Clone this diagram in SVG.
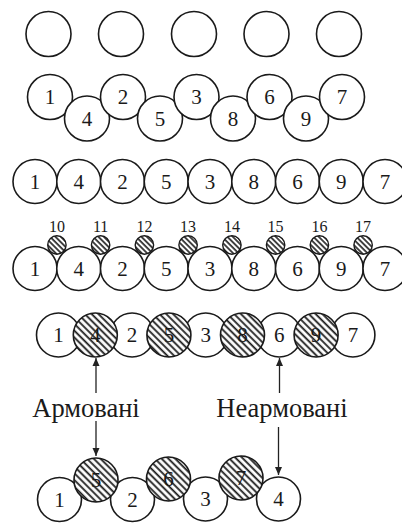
<svg xmlns="http://www.w3.org/2000/svg" width="402" height="523" viewBox="0 0 402 523" font-family="'Liberation Serif', 'DejaVu Serif', serif">
  <defs>
    <pattern id="hatch" width="4.8" height="4.8" patternUnits="userSpaceOnUse" patternTransform="rotate(-45)">
      <rect width="4.8" height="4.8" fill="#fff"/>
      <line x1="1.2" y1="0" x2="1.2" y2="4.8" stroke="#1a1a1a" stroke-width="1.8"/>
    </pattern>
    <pattern id="hatchS" width="3.8" height="3.8" patternUnits="userSpaceOnUse" patternTransform="rotate(-45)">
      <rect width="3.8" height="3.8" fill="#fff"/>
      <line x1="1" y1="0" x2="1" y2="3.8" stroke="#1a1a1a" stroke-width="1.6"/>
    </pattern>
    <marker id="arr" viewBox="0 0 8 10" refX="8" refY="5" markerWidth="8" markerHeight="10" markerUnits="userSpaceOnUse" orient="auto">
      <path d="M0,1.5 L8,5 L0,8.5 Z" fill="#222"/>
    </marker>
  </defs>
  <style>
    circle { stroke: #1a1a1a; stroke-width: 1.6; fill: #fff; }
    circle.h { fill: url(#hatch); }
    circle.hs { fill: url(#hatchS); stroke-width: 1.4; }
    text { font-family: "Liberation Serif", "DejaVu Serif", serif; fill: #1a1a1a; text-anchor: middle; }
    .n { font-size: 21px; }
    .s { font-size: 16px; }
    .lbl { font-size: 26.5px; }
    .conn line { stroke: #222; stroke-width: 1.3; }
  </style>
  <rect width="402" height="523" fill="#fff"/>

  <!-- row 1: separate strands -->
  <g id="row1">
    <g id="r1-a"><circle cx="48.5" cy="34" r="22.5"/></g>
    <g id="r1-b"><circle cx="121" cy="34" r="22.5"/></g>
    <g id="r1-c"><circle cx="194" cy="34" r="22.5"/></g>
    <g id="r1-d"><circle cx="266.5" cy="34" r="22.5"/></g>
    <g id="r1-e"><circle cx="339" cy="34" r="22.5"/></g>
  </g>

  <!-- row 2: zig-zag -->
  <g id="row2">
    <g id="r2-1"><circle cx="50" cy="97" r="22.5"/><text class="n" x="50" y="104">1</text></g>
    <g id="r2-4"><circle cx="87" cy="118.5" r="22.5"/><text class="n" x="87" y="125.5">4</text></g>
    <g id="r2-2"><circle cx="123" cy="97" r="22.5"/><text class="n" x="123" y="104">2</text></g>
    <g id="r2-5"><circle cx="160" cy="118.5" r="22.5"/><text class="n" x="160" y="125.5">5</text></g>
    <g id="r2-3"><circle cx="196.5" cy="97" r="22.5"/><text class="n" x="196.5" y="104">3</text></g>
    <g id="r2-8"><circle cx="233" cy="118.5" r="22.5"/><text class="n" x="233" y="125.5">8</text></g>
    <g id="r2-6"><circle cx="269.5" cy="97" r="22.5"/><text class="n" x="269.5" y="104">6</text></g>
    <g id="r2-9"><circle cx="306" cy="118.5" r="22.5"/><text class="n" x="306" y="125.5">9</text></g>
    <g id="r2-7"><circle cx="342" cy="97" r="22.5"/><text class="n" x="342" y="104">7</text></g>
  </g>

  <!-- row 3: straight line -->
  <g id="row3">
    <g id="r3-1"><circle cx="35" cy="181.5" r="22"/><text class="n" x="35" y="188.5">1</text></g>
    <g id="r3-4"><circle cx="78.75" cy="181.5" r="22"/><text class="n" x="78.75" y="188.5">4</text></g>
    <g id="r3-2"><circle cx="122.5" cy="181.5" r="22"/><text class="n" x="122.5" y="188.5">2</text></g>
    <g id="r3-5"><circle cx="166.25" cy="181.5" r="22"/><text class="n" x="166.25" y="188.5">5</text></g>
    <g id="r3-3"><circle cx="210" cy="181.5" r="22"/><text class="n" x="210" y="188.5">3</text></g>
    <g id="r3-8"><circle cx="253.75" cy="181.5" r="22"/><text class="n" x="253.75" y="188.5">8</text></g>
    <g id="r3-6"><circle cx="297.5" cy="181.5" r="22"/><text class="n" x="297.5" y="188.5">6</text></g>
    <g id="r3-9"><circle cx="341.25" cy="181.5" r="22"/><text class="n" x="341.25" y="188.5">9</text></g>
    <g id="r3-7"><circle cx="385" cy="181.5" r="22"/><text class="n" x="385" y="188.5">7</text></g>
  </g>

  <!-- row 4: straight line with small reinforcing strands -->
  <g id="row4">
    <g id="r4-1"><circle cx="35" cy="268.5" r="22"/><text class="n" x="35" y="275.5">1</text></g>
    <g id="r4-4"><circle cx="78.75" cy="268.5" r="22"/><text class="n" x="78.75" y="275.5">4</text></g>
    <g id="r4-2"><circle cx="122.5" cy="268.5" r="22"/><text class="n" x="122.5" y="275.5">2</text></g>
    <g id="r4-5"><circle cx="166.25" cy="268.5" r="22"/><text class="n" x="166.25" y="275.5">5</text></g>
    <g id="r4-3"><circle cx="210" cy="268.5" r="22"/><text class="n" x="210" y="275.5">3</text></g>
    <g id="r4-8"><circle cx="253.75" cy="268.5" r="22"/><text class="n" x="253.75" y="275.5">8</text></g>
    <g id="r4-6"><circle cx="297.5" cy="268.5" r="22"/><text class="n" x="297.5" y="275.5">6</text></g>
    <g id="r4-9"><circle cx="341.25" cy="268.5" r="22"/><text class="n" x="341.25" y="275.5">9</text></g>
    <g id="r4-7"><circle cx="385" cy="268.5" r="22"/><text class="n" x="385" y="275.5">7</text></g>
    <g id="r4-10"><circle class="hs" cx="56.9" cy="245" r="9.2"/><text class="s" x="56.9" y="232">10</text></g>
    <g id="r4-11"><circle class="hs" cx="100.6" cy="245" r="9.2"/><text class="s" x="100.6" y="232">11</text></g>
    <g id="r4-12"><circle class="hs" cx="144.4" cy="245" r="9.2"/><text class="s" x="144.4" y="232">12</text></g>
    <g id="r4-13"><circle class="hs" cx="188.1" cy="245" r="9.2"/><text class="s" x="188.1" y="232">13</text></g>
    <g id="r4-14"><circle class="hs" cx="231.9" cy="245" r="9.2"/><text class="s" x="231.9" y="232">14</text></g>
    <g id="r4-15"><circle class="hs" cx="275.6" cy="245" r="9.2"/><text class="s" x="275.6" y="232">15</text></g>
    <g id="r4-16"><circle class="hs" cx="319.4" cy="245" r="9.2"/><text class="s" x="319.4" y="232">16</text></g>
    <g id="r4-17"><circle class="hs" cx="363.1" cy="245" r="9.2"/><text class="s" x="363.1" y="232">17</text></g>
  </g>

  <!-- row 5: compact line, reinforced strands hatched -->
  <g id="row5">
    <g id="r5-1"><circle cx="58.5" cy="335" r="22"/><text class="n" x="58.5" y="342">1</text></g>
    <g id="r5-2"><circle cx="132.1" cy="335" r="22"/><text class="n" x="132.1" y="342">2</text></g>
    <g id="r5-3"><circle cx="205.7" cy="335" r="22"/><text class="n" x="205.7" y="342">3</text></g>
    <g id="r5-6"><circle cx="279.3" cy="335" r="22"/><text class="n" x="279.3" y="342">6</text></g>
    <g id="r5-7"><circle cx="352.9" cy="335" r="22"/><text class="n" x="352.9" y="342">7</text></g>
    <g id="r5-4"><circle class="h" cx="95.3" cy="335" r="22"/><text class="n" x="95.3" y="342">4</text></g>
    <g id="r5-5"><circle class="h" cx="168.9" cy="335" r="22"/><text class="n" x="168.9" y="342">5</text></g>
    <g id="r5-8"><circle class="h" cx="242.5" cy="335" r="22"/><text class="n" x="242.5" y="342">8</text></g>
    <g id="r5-9"><circle class="h" cx="316.1" cy="335" r="22"/><text class="n" x="316.1" y="342">9</text></g>
  </g>

  <!-- row 6: reinforced strands lifted above plain ones -->
  <g id="row6">
    <g id="r6-1"><circle cx="59.5" cy="499.5" r="22"/><text class="n" x="59.5" y="506.5">1</text></g>
    <g id="r6-2"><circle cx="132.5" cy="499.5" r="22"/><text class="n" x="132.5" y="506.5">2</text></g>
    <g id="r6-3"><circle cx="205.5" cy="499" r="22"/><text class="n" x="205.5" y="506">3</text></g>
    <g id="r6-4"><circle cx="278.5" cy="499" r="22"/><text class="n" x="278.5" y="506">4</text></g>
    <g id="r6-5"><circle class="h" cx="96" cy="480" r="22"/><text class="n" x="96" y="487">5</text></g>
    <g id="r6-6"><circle class="h" cx="168.5" cy="479" r="22"/><text class="n" x="168.5" y="486">6</text></g>
    <g id="r6-7"><circle class="h" cx="241" cy="478" r="22"/><text class="n" x="241" y="485">7</text></g>
  </g>

  <!-- labels -->
  <g id="label-armovani"><text class="lbl" x="86" y="417">Армовані</text></g>
  <g id="label-nearmovani"><text class="lbl" x="282" y="417">Неармовані</text></g>

  <!-- connectors -->
  <g class="conn" id="connectors">
    <line x1="96" y1="393" x2="96" y2="358" marker-end="url(#arr)"/>
    <line x1="279.5" y1="393" x2="279.5" y2="358" marker-end="url(#arr)"/>
    <line x1="96" y1="421" x2="96" y2="456" marker-end="url(#arr)"/>
    <line x1="278.5" y1="427" x2="278.5" y2="475" marker-end="url(#arr)"/>
  </g>
</svg>
